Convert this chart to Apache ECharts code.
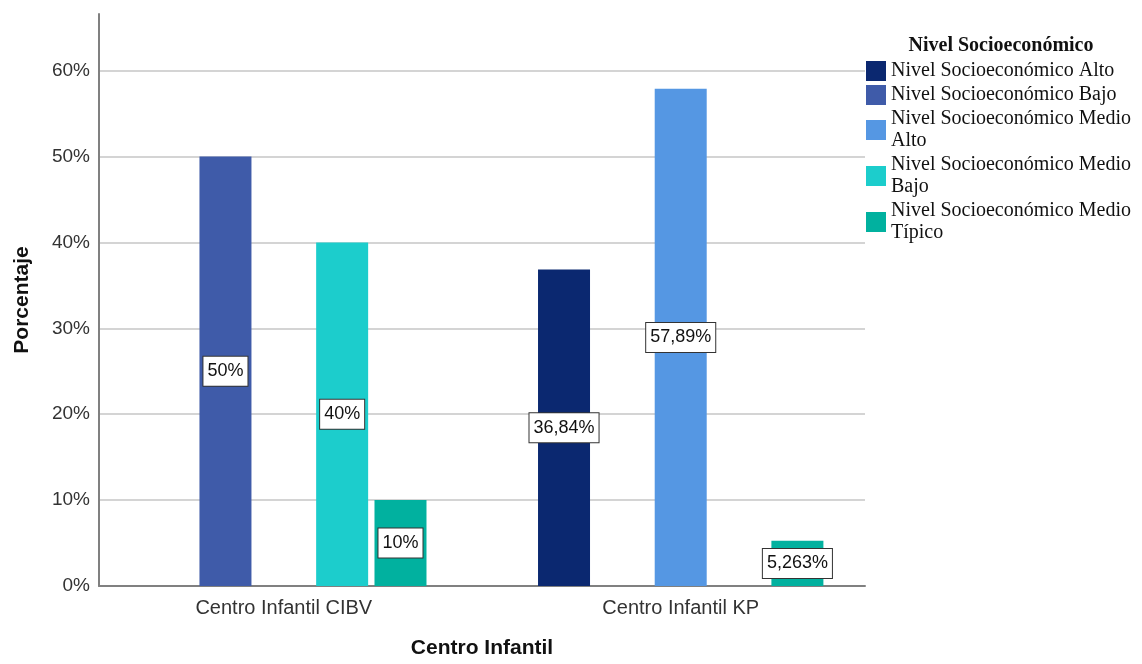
<!DOCTYPE html>
<html>
<head>
<meta charset="utf-8">
<script src="https://cdn.jsdelivr.net/npm/echarts@6/dist/echarts.min.js"></script>
<style>
  html, body { margin: 0; padding: 0; background: #fff; }
  #chart { width: 1142px; height: 664px; }
</style>
</head>
<body>
<div id="chart"></div>
<script>
// centros (posiciones 1 y 2 en el eje x)
const centros = ['Centro Infantil CIBV', 'Centro Infantil KP']
const niveles = [
  'Nivel Socioeconómico Alto',
  'Nivel Socioeconómico Bajo',
  'Nivel Socioeconómico Medio Alto',
  'Nivel Socioeconómico Medio Bajo',
  'Nivel Socioeconómico Medio Típico'
]
// porcentaje por centro, null = sin casos
const alto = [null, 36.84]
const bajo = [50, null]
const medioAlto = [null, 57.89]
const medioBajo = [40, null]
const medioTipico = [10, 5.263]
const yTicks = [0, 10, 20, 30, 40, 50, 60]

const colores = ['#0b2870', '#3f5ba9', '#5597e3', '#1ccdcc', '#01b19f']
const valores = [alto, bajo, medioAlto, medioBajo, medioTipico]

const chart = echarts.init(document.getElementById('chart'))

const toPoints = arr => arr
  .map((v, i) => v == null ? null : [i + 1, v])
  .filter(p => p)

const series = niveles.map((name, i) => ({
  name: name,
  type: 'bar',
  barWidth: 52,
  barGap: '12.2%',
  itemStyle: { color: colores[i] },
  data: toPoints(valores[i]),
  label: {
    show: true,
    position: 'inside',
    formatter: p => String(p.value[1]).replace('.', ',') + '%',
    color: '#111',
    fontFamily: 'Liberation Sans, Arial, sans-serif',
    fontSize: 18,
    backgroundColor: '#fff',
    borderColor: '#333',
    borderWidth: 1,
    padding: [6, 4, 5, 4]
  }
}))

const option = {
  animation: false,
  title: {
    text: 'Nivel Socioeconómico',
    left: 1001,
    textAlign: 'center',
    top: 36,
    padding: 0,
    textStyle: {
      fontFamily: 'Liberation Serif, Times New Roman, serif',
      fontWeight: 'bold',
      fontSize: 20,
      color: '#111'
    }
  },
  legend: {
    orient: 'vertical',
    left: 866,
    top: 60,
    padding: 0,
    itemWidth: 20,
    itemHeight: 20,
    itemGap: 2,
    icon: 'rect',
    data: niveles,
    formatter: name => name.replace('Medio ', 'Medio\n'),
    textStyle: {
      fontFamily: 'Liberation Serif, Times New Roman, serif',
      fontSize: 20,
      color: '#111',
      lineHeight: 22
    }
  },
  grid: {
    left: 99,
    right: 277,
    top: 14,
    bottom: 76
  },
  xAxis: {
    type: 'value',
    min: 0.5344,
    max: 2.4643,
    name: 'Centro Infantil',
    nameLocation: 'middle',
    nameGap: 52,
    nameTextStyle: {
      fontFamily: 'Liberation Sans, Arial, sans-serif',
      fontWeight: 'bold',
      fontSize: 21,
      color: '#111'
    },
    axisLine: { show: true, lineStyle: { color: '#808080', width: 2 } },
    axisTick: { show: false },
    splitLine: { show: false },
    axisLabel: {
      customValues: [1, 2],
      formatter: v => centros[Math.round(v) - 1] || '',
      margin: 12,
      fontFamily: 'Liberation Sans, Arial, sans-serif',
      fontSize: 20,
      color: '#333'
    }
  },
  yAxis: {
    type: 'value',
    min: 0,
    max: 66.6,
    interval: 10,
    name: 'Porcentaje',
    nameLocation: 'middle',
    nameGap: 66,
    nameTextStyle: {
      fontFamily: 'Liberation Sans, Arial, sans-serif',
      fontWeight: 'bold',
      fontSize: 21,
      color: '#111'
    },
    axisLine: { show: true, lineStyle: { color: '#808080', width: 2 } },
    axisTick: { show: false },
    splitLine: {
      show: true,
      showMaxLine: false,
      lineStyle: { color: '#d4d4d4', width: 2 }
    },
    axisLabel: {
      customValues: yTicks,
      formatter: v => v + '%',
      margin: 9,
      fontFamily: 'Liberation Sans, Arial, sans-serif',
      fontSize: 19,
      color: '#333'
    }
  },
  series: series
}

chart.setOption(option)
</script>
</body>
</html>
